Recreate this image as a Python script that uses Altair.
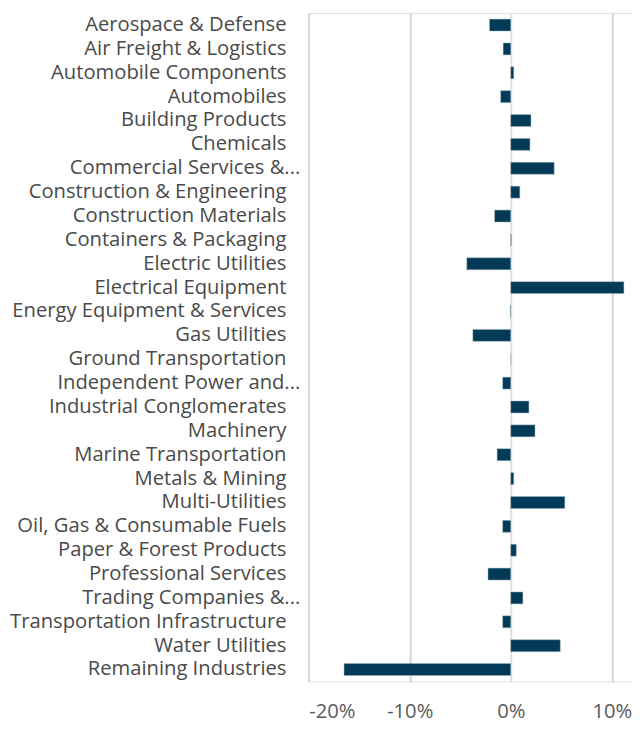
import altair as alt
import pandas as pd

industries = [
    "Aerospace & Defense", "Air Freight & Logistics", "Automobile Components",
    "Automobiles", "Building Products", "Chemicals", "Commercial Services &...",
    "Construction & Engineering", "Construction Materials", "Containers & Packaging",
    "Electric Utilities", "Electrical Equipment", "Energy Equipment & Services",
    "Gas Utilities", "Ground Transportation", "Independent Power and...",
    "Industrial Conglomerates", "Machinery", "Marine Transportation",
    "Metals & Mining", "Multi-Utilities", "Oil, Gas & Consumable Fuels",
    "Paper & Forest Products", "Professional Services", "Trading Companies &...",
    "Transportation Infrastructure", "Water Utilities", "Remaining Industries",
]
values = [
    -2.1, -0.75, 0.3, -1.0, 2.0, 1.9, 4.3,
    0.9, -1.6, 0.05, -4.35, 11.2, -0.05,
    -3.75, 0.0, -0.8, 1.8, 2.4, -1.35,
    0.3, 5.35, -0.8, 0.55, -2.25, 1.2,
    -0.8, 4.9, -16.5,
]
x_ticks = [-20, -10, 0, 10]

df = pd.DataFrame({"industry": industries, "value": [v / 100 for v in values]})

font = "Open Sans"

bars = alt.Chart(df).mark_bar(color="#023a58", stroke="#9fb3c0", strokeWidth=0.5).encode(
    x=alt.X(
        "value:Q",
        scale=alt.Scale(domain=[-0.20, 0.12], nice=False, zero=False),
        axis=alt.Axis(
            values=[t / 100 for t in x_ticks], format=".0%", title=None,
            labelExpr="replace(datum.label, '\u2212', '-')",
            domain=False, ticks=False, grid=True,
            gridColor={"condition": {"test": "datum.value === 0", "value": "#e0e0e0"}, "value": "#cfd8de"},
            gridWidth=2,
            labelFont=font, labelFontSize=20.5, labelColor="#5a5a5a",
            labelPadding=21,
        ),
    ),
    y=alt.Y(
        "industry:N", sort=industries, title=None,
        scale=alt.Scale(paddingInner=0.5, paddingOuter=0.25),
        axis=alt.Axis(
            domain=False, ticks=False, labelFont=font, labelFontSize=20.5,
            labelColor="#4a4a4a", labelLimit=400,
            labelPadding={"condition": {"test": "indexof(datum.label, '...') >= 0", "value": 9}, "value": 23},
        ),
    ),
)

chart = bars.properties(
    width=328, height=678,
    autosize=alt.AutoSizeParams(type="none"),
    padding={"left": 305, "top": 0, "right": 0, "bottom": 43},
).configure_axis(domain=False, ticks=False).configure_view(strokeWidth=0).configure(background="white")

chart.save("out.html", embed_options={"renderer": "svg", "actions": False})
